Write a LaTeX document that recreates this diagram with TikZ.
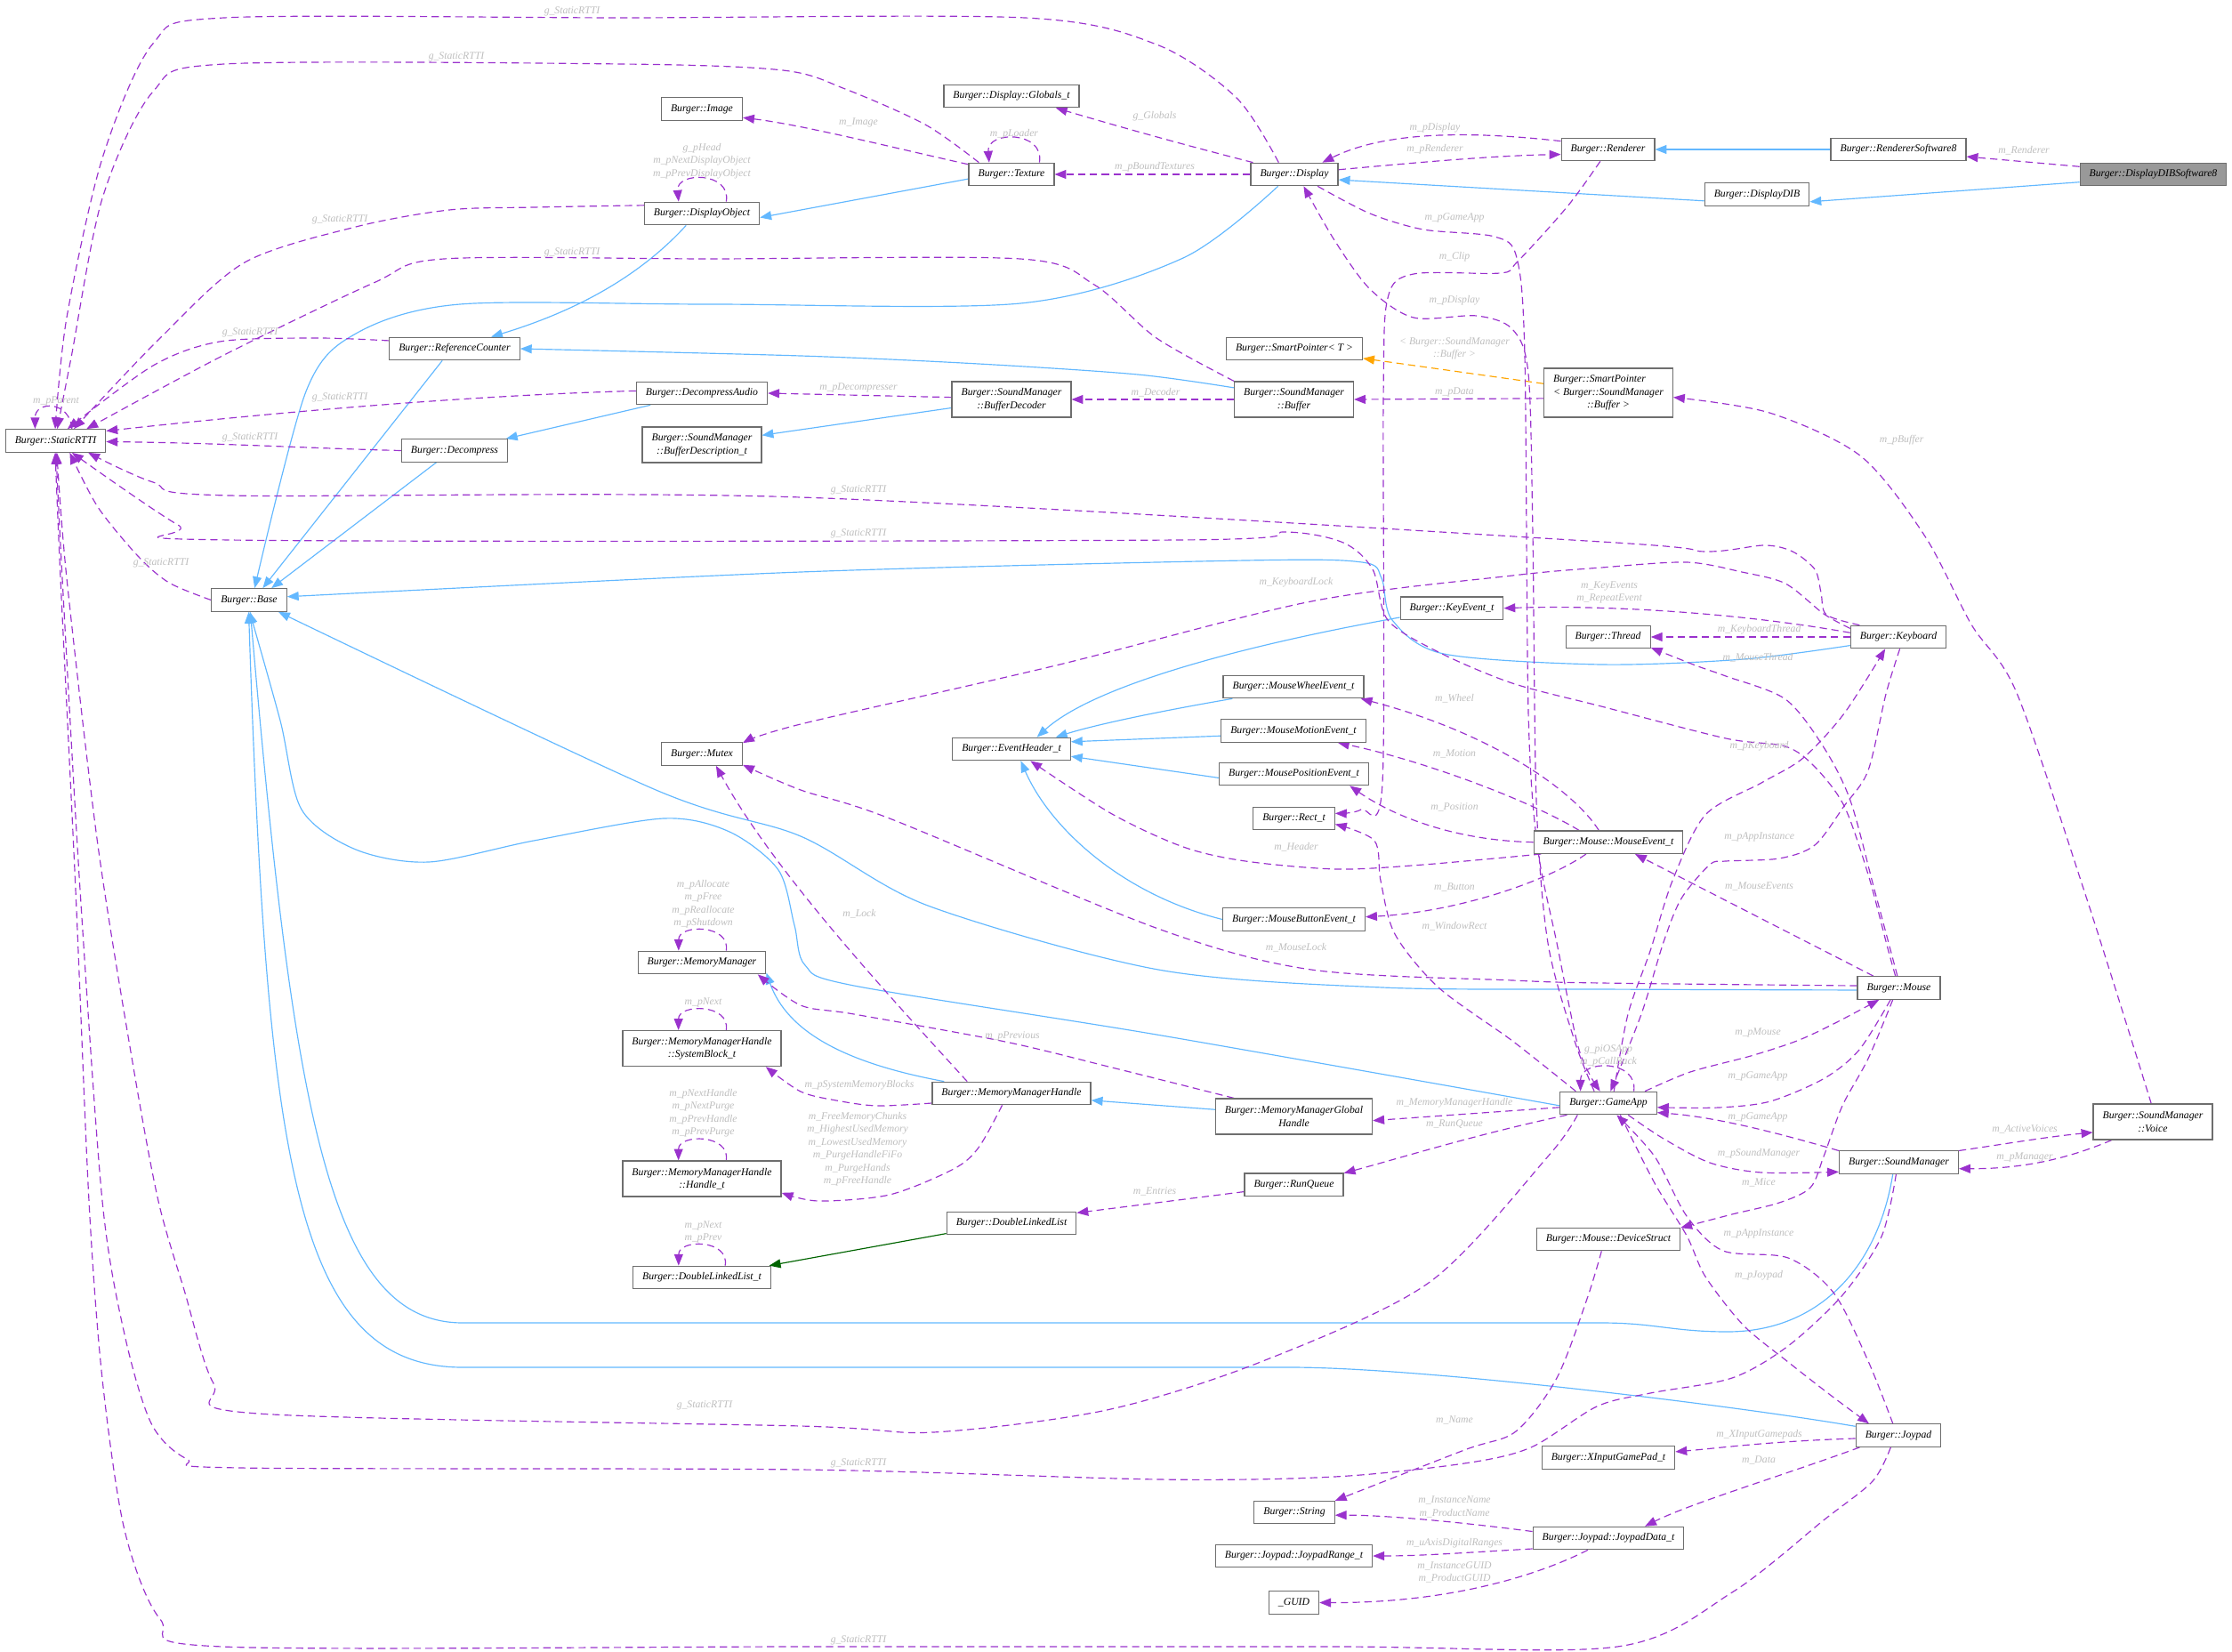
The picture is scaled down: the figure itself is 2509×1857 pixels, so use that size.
\documentclass[tikz,border=0pt]{standalone}
\usepackage{fontspec}
\setmainfont{Liberation Serif}
\usepackage{xcolor}
\usetikzlibrary{arrows.meta,backgrounds}
\definecolor{inhblue}{HTML}{63B8FF}
\definecolor{memorchid}{HTML}{9A32CD}
\definecolor{tplorange}{HTML}{FFA500}
\definecolor{pubgreen}{HTML}{006400}
\definecolor{lblgrey}{HTML}{BEBEBE}
\definecolor{boxgrey}{HTML}{6E6E6E}
\definecolor{curfill}{HTML}{999999}

\begin{document}
\begin{tikzpicture}[x=0.03cm, y=-0.03cm,
    cls/.style={draw=boxgrey, line width=1pt, fill=white, font=\fontsize{10}{12.4}\selectfont\itshape,
      inner xsep=9pt, inner ysep=2pt, minimum height=0.765cm, align=center},
    cls2/.style={cls, minimum height=1.2cm},
    cls3/.style={cls, minimum height=1.65cm},
    cur/.style={cls, fill=curfill},
    lbl/.style={font=\fontsize{10}{12.4}\selectfont\itshape, text=lblgrey, inner sep=0pt, align=center},
    inh/.style={draw=inhblue, line width=1pt, -{Triangle[length=11pt,width=8.5pt]}},
    mem/.style={draw=memorchid, line width=1pt, dash pattern=on 7pt off 4.3pt, -{Triangle[length=11pt,width=8.5pt]}},
    tpl/.style={mem, draw=tplorange},
    pub/.style={inh, draw=pubgreen},
  ]
  \useasboundingbox (0,0) rectangle (2509,1857);

  % classes
  \node[cls] (srtti) at (62.5,495.5) {Burger::StaticRTTI};
  \node[cls] (image) at (789,122.5) {Burger::Image};
  \node[cls] (dobj) at (789,240) {Burger::DisplayObject};
  \node[cls] (refc) at (511,392) {Burger::ReferenceCounter};
  \node[cls] (decaud) at (789,442) {Burger::DecompressAudio};
  \node[cls2] (bufdesc) at (789,500) {Burger::SoundManager\\::BufferDescription\_t};
  \node[cls] (decomp) at (511,506.5) {Burger::Decompress};
  \node[cls] (base) at (280,674.5) {Burger::Base};
  \node[cls] (globals) at (1137,108) {Burger::Display::Globals\_t};
  \node[cls] (texture) at (1137,196) {Burger::Texture};
  \node[cls] (display) at (1455,196) {Burger::Display};
  \node[cls] (renderer) at (1807.5,168) {Burger::Renderer};
  \node[cls] (rsw8) at (2134,168) {Burger::RendererSoftware8};
  \node[cur] (ddibsw8) at (2420.5,196) {Burger::DisplayDIBSoftware8};
  \node[cls] (ddib) at (1975,218.5) {Burger::DisplayDIB};
  \node[cls] (smptrT) at (1455,392) {Burger::SmartPointer< T >};
  \node[cls2] (bufdec) at (1137,449) {Burger::SoundManager\\::BufferDecoder};
  \node[cls2] (buffer) at (1454.5,449) {Burger::SoundManager\\::Buffer};
  \node[cls3] (smptrB) at (1808,441.5) {\begin{tabular}{@{}l@{}}Burger::SmartPointer\\< Burger::SoundManager\\\multicolumn{1}{@{}c@{}}{::Buffer >}\end{tabular}};
  \node[cls] (keyev) at (1632,683.7) {Burger::KeyEvent\_t};
  \node[cls] (thread) at (1807.6,716) {Burger::Thread};
  \node[cls] (keyboard) at (2134,716) {Burger::Keyboard};
  \node[cls] (mutex) at (789,847.5) {Burger::Mutex};
  \node[cls] (wheel) at (1454,772) {Burger::MouseWheelEvent\_t};
  \node[cls] (motion) at (1454,821.5) {Burger::MouseMotionEvent\_t};
  \node[cls] (evhdr) at (1137,842) {Burger::EventHeader\_t};
  \node[cls] (position) at (1454.5,870) {Burger::MousePositionEvent\_t};
  \node[cls] (rect) at (1454.5,920) {Burger::Rect\_t};
  \node[cls] (mouseev) at (1808,946.7) {Burger::Mouse::MouseEvent\_t};
  \node[cls] (button) at (1454.5,1033.5) {Burger::MouseButtonEvent\_t};
  \node[cls] (mouse) at (2134.5,1110.5) {Burger::Mouse};
  \node[cls] (memmgr) at (789,1082) {Burger::MemoryManager};
  \node[cls2] (sysblk) at (789,1178.6) {Burger::MemoryManagerHandle\\::SystemBlock\_t};
  \node[cls2] (handle) at (789,1325) {Burger::MemoryManagerHandle\\::Handle\_t};
  \node[cls] (dllt) at (789,1436) {Burger::DoubleLinkedList\_t};
  \node[cls] (mmh) at (1137,1229) {Burger::MemoryManagerHandle};
  \node[cls2] (mmgh) at (1454.5,1255) {Burger::MemoryManagerGlobal\\Handle};
  \node[cls] (gameapp) at (1808,1240) {Burger::GameApp};
  \node[cls2] (voice) at (2420,1261) {Burger::SoundManager\\::Voice};
  \node[cls] (sndmgr) at (2134.5,1306.6) {Burger::SoundManager};
  \node[cls] (runq) at (1454.5,1331.7) {Burger::RunQueue};
  \node[cls] (dll) at (1137,1375) {Burger::DoubleLinkedList};
  \node[cls] (devstr) at (1808,1393) {Burger::Mouse::DeviceStruct};
  \node[cls] (joypad) at (2134,1613.6) {Burger::Joypad};
  \node[cls] (xinput) at (1808,1638.5) {Burger::XInputGamePad\_t};
  \node[cls] (jdata) at (1808,1729) {Burger::Joypad::JoypadData\_t};
  \node[cls] (string) at (1455,1700) {Burger::String};
  \node[cls] (jrange) at (1454.5,1749) {Burger::Joypad::JoypadRange\_t};
  \node[cls] (guid) at (1454.5,1801.5) {\_GUID};

  \begin{scope}[on background layer]
  % inheritance
  \draw[inh] (rsw8.west) -- (renderer.east);
  \draw[inh] (ddibsw8.186) -- (ddib.352);
  \draw[inh] (ddib.187) -- (display.353);
  \draw[inh] (texture.186) -- (dobj.356);
  \draw[inh] (dobj.-143) .. controls (715,315) and (640,352) .. (refc.18);
  \draw[inh] plot[smooth] coordinates {(display.216) (1330,290) (1147,341) (800,342) (517,342) (400,375) (344,440) (base.65)};
  \draw[inh] (refc.-136) -- (base.41);
  \draw[inh] (decomp.-147) -- (base.28);
  \draw[inh] (decaud.193) -- (decomp.13);
  \draw[inh] (bufdec.188) -- (bufdesc.9);
  \draw[inh] plot[smooth] coordinates {(buffer.169) (1279,421) (1100,409) (900,400) (refc.east)};
  \draw[inh] plot[smooth] coordinates {(keyboard.190) (1960,741) (1800,747) (1623,735) (1565,697) (1553,650) (1531,632) (1400,630) (900,643) (base.5)};
  \draw[inh] plot[smooth] coordinates {(mouse.183) (1800,1112) (1554,1110) (1302,1090) (1043,1018) (900,940) (735,887) (base.-22)};
  \draw[inh] plot[smooth] coordinates {(gameapp.183) (1300,1163) (960,1108) (905,1085) (893,1040) (875,978) (820,935) (746,920) (600,945) (482,969) (400,955) (339,910) (315,810) (base.-87)};
  \draw[inh] (sndmgr.-117) .. controls (2110,1430) and (2040,1497) .. (1942,1497)
    .. controls (1880,1497) and (1860,1487) .. (1800,1487) -- (520,1487)
    .. controls (370,1487) and (330,1250) .. (base.-84);
  \draw[inh] (joypad.168) .. controls (1950,1580) and (1600,1537) .. (1450,1537) -- (520,1537)
    .. controls (330,1537) and (300,1300) .. (base.-92);
  \draw[inh] (keyev.190) .. controls (1400,725) and (1230,770) .. (evhdr.25);
  \draw[inh] (wheel.-169) .. controls (1300,800) and (1230,815) .. (evhdr.15);
  \draw[inh] (motion.184) -- (evhdr.7);
  \draw[inh] (position.183) -- (evhdr.-7);
  \draw[inh] (button.west) .. controls (1260,1005) and (1180,930) .. (evhdr.-52);
  \draw[inh] (mmgh.175) -- (mmh.-5);
  \draw[inh] (mmh.170) .. controls (950,1195) and (885,1160) .. (memmgr.-9);
  \draw[pub] (dll.189) -- (dllt.10);
  \draw[tpl] (smptrB.172) -- (smptrT.-8);

  % members
  \draw[mem] (ddibsw8.174) -- (rsw8.-6);
  \draw[mem] (display.6) .. controls (1600,182) and (1680,175) .. (renderer.186);
  \draw[mem] (renderer.170) .. controls (1660,148) and (1560,146) .. (display.23);
  \draw[mem] (display.164) .. controls (1320,160) and (1250,140) .. (globals.-15);
  \draw[mem] (display.west) -- (texture.east);
  \draw[mem] (texture.23) .. controls +(6,-36) and +(-3,-36) .. (texture.152);
  \draw[mem] (texture.167) .. controls (1000,165) and (900,140) .. (image.-12);
  \draw[mem] plot[smooth] coordinates {(display.143) (1390,110) (1300,50) (1152,20) (700,20) (252,20) (172,49) (115,178) (75,357) (srtti.92)};
  \draw[mem] plot[smooth] coordinates {(texture.160) (1040,140) (950,100) (880,79) (700,72) (252,72) (172,103) (115,223) (80,402) (srtti.82)};
  \draw[mem] (dobj.26) .. controls +(6,-34) and +(-3,-34) .. (dobj.153);
  \draw[mem] plot[smooth] coordinates {(dobj.172) (600,233) (505,236) (400,255) (275,295) (180,380) (srtti.33)};
  \draw[mem] plot[smooth] coordinates {(buffer.163) (1300,380) (1230,320) (1147,291) (800,291) (499,291) (420,318) (250,400) (srtti.21)};
  \draw[mem] plot[smooth] coordinates {(refc.173) (356,380) (247,384) (172,411) (srtti.45)};
  \draw[mem] (decaud.178) .. controls (500,445) and (250,470) .. (srtti.11);
  \draw[mem] (decomp.180) .. controls (350,504) and (250,498) .. (srtti.-1);
  \draw[mem] plot[smooth] coordinates {(keyboard.163) (2053,691) (2047,666) (2040,640) (2015,620) (1983,613) (1917,620) (1800,609) (900,559) (258,557) (172,542) (srtti.-20)};
  \draw[mem] plot[smooth] coordinates {(mouse.106) (2122,1066) (2100,983) (2073,906) (2040,862) (2007,839) (1940,830) (1800,794) (1700,768) (1617,733) (1560,697) (1543,640) (1510,610) (1445,598) (1325,607) (258,607) (200,590) (srtti.-36)};
  \draw[mem] plot[smooth] coordinates {(base.west) (190,655) (155,625) (110,570) (srtti.-40)};
  \draw[mem] plot[smooth] coordinates {(gameapp.-159) (1740,1300) (1606,1442) (1417,1531) (1244,1585) (1049,1610) (900,1603) (290,1589) (240,1555) (207,1450) (178,1350) (150,1200) (110,950) (75,650) (srtti.-84)};
  \draw[mem] plot[smooth] coordinates {(sndmgr.-103) (2115,1390) (2071,1456) (2010,1513) (1947,1549) (1855,1566) (1795,1581) (1721,1627) (1646,1645) (1500,1660) (1302,1663) (900,1652) (270,1650) (210,1640) (170,1600) (140,1500) (115,1350) (90,1000) (70,650) (srtti.-88)};
  \draw[mem] plot[smooth] coordinates {(joypad.-123) (2105,1665) (2051,1708) (1947,1790) (1818,1851) (1500,1851) (900,1851) (250,1851) (180,1820) (140,1720) (115,1550) (100,1350) (85,1000) (68,650) (srtti.-92)};
  \draw[mem] (srtti.36) .. controls +(-2,-32) and +(0,-32) .. (srtti.150);
  \draw[mem] (buffer.west) -- (bufdec.east);
  \draw[mem] (bufdec.178) -- (decaud.east);
  \draw[mem] (smptrB.185) -- (buffer.east);
  \draw[mem] plot[smooth] coordinates {(voice.95) (2345,1008) (2267,779) (2216,702) (2164,603) (2092,513) (1989,464) (smptrB.-4)};
  \draw[mem] (keyboard.175) .. controls (1950,688) and (1800,680) .. (keyev.east);
  \draw[mem] (keyboard.west) -- (thread.east);
  \draw[mem] plot[smooth] coordinates {(mouse.97) (2107,1000) (2080,900) (2050,840) (2007,786) (1940,760) (1906,748) (thread.-14)};
  \draw[mem] (mouse.155) -- (mouseev.-24);
  \draw[mem] (mouseev.129) .. controls (1770,890) and (1680,825) .. (wheel.-10);
  \draw[mem] (mouseev.158) .. controls (1720,900) and (1600,855) .. (motion.-15);
  \draw[mem] (mouseev.west) .. controls (1640,945) and (1570,920) .. (position.-12);
  \draw[mem] plot[smooth] coordinates {(mouseev.190) (1600,972) (1503,977) (1400,968) (1330,952) (1250,915) (evhdr.-32)};
  \draw[mem] (mouseev.208) .. controls (1740,990) and (1640,1025) .. (button.2);
  \draw[mem] plot[smooth] coordinates {(gameapp.160) (1700,1170) (1617,1110) (1568,1050) (1552,990) (1545,945) (rect.-8)};
  \draw[mem] plot[smooth] coordinates {(renderer.-123) (1762,232) (1705,295) (1686,307) (1589,308) (1560,335) (1555,450) (1554,880) (1530,910) (rect.7)};
  \draw[mem] plot[smooth] coordinates {(display.-27) (1540,240) (1600,258) (1680,266) (1705,290) (1714,400) (1718,800) (1728,950) (1750,1060) (1775,1180) (gameapp.125)};
  \draw[mem] plot[smooth] coordinates {(gameapp.140) (1770,1170) (1740,1060) (1727,900) (1723,600) (1718,420) (1700,370) (1660,355) (1589,357) (1540,325) (1500,270) (display.-52)};
  \draw[mem] (gameapp.25) .. controls +(5,-36) and +(0,-36) .. (gameapp.157);
  \draw[mem] plot[smooth] coordinates {(gameapp.65) (1830,1140) (1855,1069) (1880,990) (1917,916) (1980,880) (2027,852) (2073,802) (keyboard.-138)};
  \draw[mem] plot[smooth] coordinates {(keyboard.-83) (2120,780) (2100,866) (2073,906) (2040,950) (2000,965) (1940,968) (1922,972) (1890,1010) (1870,1059) (1845,1140) (gameapp.80)};
  \draw[mem] plot[smooth] coordinates {(keyboard.170) (2050,690) (2007,656) (1958,643) (1896,632) (1800,638) (1700,647) (1474,676) (1187,748) (900,814) (mutex.15)};
  \draw[mem] plot[smooth] coordinates {(mouse.177) (1800,1105) (1700,1102) (1474,1090) (1302,1044) (1000,920) (900,888) (mutex.-15)};
  \draw[mem] (mmh.165) .. controls (1000,1120) and (870,980) .. (mutex.-40);
  \draw[mem] plot[smooth] coordinates {(mmgh.163) (1250,1200) (1130,1171) (960,1140) (900,1130) (memmgr.-12)};
  \draw[mem] plot[smooth] coordinates {(mmh.187) (986,1243) (940,1237) (900,1227) (sysblk.-16)};
  \draw[mem] plot[smooth] coordinates {(mmh.-128) (1100,1290) (1072,1314) (1000,1343) (920,1350) (handle.-10)};
  \draw[mem] (memmgr.26) .. controls +(5,-30) and +(0,-30) .. (memmgr.153);
  \draw[mem] (sysblk.37) .. controls +(5,-30) and +(0,-30) .. (sysblk.142);
  \draw[mem] (handle.37) .. controls +(5,-30) and +(0,-30) .. (handle.142);
  \draw[mem] (dllt.27) .. controls +(5,-30) and +(0,-30) .. (dllt.153);
  \draw[mem] (runq.188) -- (dll.9);
  \draw[mem] (gameapp.-164) .. controls (1660,1275) and (1580,1300) .. (runq.13);
  \draw[mem] (gameapp.185) -- (mmgh.-3);
  \draw[mem] plot[smooth] coordinates {(gameapp.18) (1900,1205) (1968,1187) (2020,1170) (2061,1151) (mouse.-149)};
  \draw[mem] plot[smooth] coordinates {(mouse.-125) (2090,1180) (2051,1212) (1990,1238) (1932,1245) (gameapp.-5)};
  \draw[mem] (sndmgr.169) .. controls (1980,1268) and (1920,1255) .. (gameapp.-11);
  \draw[mem] plot[smooth] coordinates {(gameapp.-31) (1870,1280) (1922,1307) (1980,1318) (sndmgr.189)};
  \draw[mem] (sndmgr.11) .. controls (2260,1285) and (2300,1278) .. (voice.190);
  \draw[mem] (voice.204) .. controls (2330,1300) and (2280,1314) .. (sndmgr.-6);
  \draw[mem] plot[smooth] coordinates {(mouse.-117) (2100,1190) (2071,1243) (2050,1300) (2035,1335) (2000,1352) (1947,1365) (devstr.9)};
  \draw[mem] plot[smooth] coordinates {(joypad.115) (2100,1530) (2061,1453) (2010,1414) (1937,1406) (1896,1367) (1860,1300) (gameapp.-55)};
  \draw[mem] plot[smooth] coordinates {(gameapp.-45) (1860,1330) (1896,1389) (1917,1435) (1960,1490) (2010,1531) (2060,1570) (joypad.158)};
  \draw[mem] plot[smooth] coordinates {(devstr.-120) (1784,1460) (1750,1549) (1704,1609) (1646,1630) (string.16)};
  \draw[mem] (joypad.197) .. controls (2000,1660) and (1900,1690) .. (jdata.18);
  \draw[mem] (joypad.184) .. controls (1990,1620) and (1930,1628) .. (xinput.5);
  \draw[mem] (jdata.175) .. controls (1650,1712) and (1560,1703) .. (string.-4);
  \draw[mem] (jdata.188) .. controls (1650,1745) and (1600,1749) .. (jrange.east);
  \draw[mem] (jdata.-150) .. controls (1720,1775) and (1620,1802) .. (guid.east);
  \end{scope}

  % edge labels
  \node[lbl] (lbRend) at (2275,169) {m\_Renderer};
  \node[lbl] (lbPRend) at (1613,168) {m\_pRenderer};
  \node[lbl] (lbPDisp) at (1613,144) {m\_pDisplay};
  \node[lbl] (lbGlob) at (1298,131) {g\_Globals};
  \node[lbl] (lbBound) at (1298,188) {m\_pBoundTextures};
  \node[lbl] (lbLoader) at (1140,151) {m\_pLoader};
  \node[lbl] (lbImage) at (965,137.5) {m\_Image};
  \node[lbl] (lbRttiA) at (643,12.5) {g\_StaticRTTI};
  \node[lbl] (lbRttiB) at (513,64) {g\_StaticRTTI};
  \node[lbl] (lbHead) at (789,181) {g\_pHead\\m\_pNextDisplayObject\\m\_pPrevDisplayObject};
  \node[lbl] (lbRttiC) at (382,247) {g\_StaticRTTI};
  \node[lbl] (lbRttiD) at (643,283.5) {g\_StaticRTTI};
  \node[lbl] (lbRttiE) at (281,373.7) {g\_StaticRTTI};
  \node[lbl] (lbRttiF) at (382,447) {g\_StaticRTTI};
  \node[lbl] (lbRttiG) at (281,492) {g\_StaticRTTI};
  \node[lbl] (lbRttiH) at (965,551) {g\_StaticRTTI};
  \node[lbl] (lbRttiI) at (965,600) {g\_StaticRTTI};
  \node[lbl] (lbRttiJ) at (181,633) {g\_StaticRTTI};
  \node[lbl] (lbRttiK) at (792,1580) {g\_StaticRTTI};
  \node[lbl] (lbRttiL) at (965,1644.6) {g\_StaticRTTI};
  \node[lbl] (lbRttiM) at (965,1843.5) {g\_StaticRTTI};
  \node[lbl] (lbParent) at (63,451) {m\_pParent};
  \node[lbl] (lbDecoder) at (1299,441) {m\_Decoder};
  \node[lbl] (lbDecomp) at (965,436) {m\_pDecompresser};
  \node[lbl] (lbData) at (1635,440.6) {m\_pData};
  \node[lbl] (lbTpl) at (1635,391.6) {< Burger::SoundManager\\::Buffer >};
  \node[lbl] (lbBuffer) at (2137.6,494.6) {m\_pBuffer};
  \node[lbl] (lbKeyEv) at (1809,666) {m\_KeyEvents\\m\_RepeatEvent};
  \node[lbl] (lbKbThr) at (1977.6,708) {m\_KeyboardThread};
  \node[lbl] (lbMsThr) at (1976,739) {m\_MouseThread};
  \node[lbl] (lbPKb) at (1977.6,839) {m\_pKeyboard};
  \node[lbl] (lbAppA) at (1977.6,941) {m\_pAppInstance};
  \node[lbl] (lbMsEv) at (1977.6,996) {m\_MouseEvents};
  \node[lbl] (lbKbLock) at (1457,655) {m\_KeyboardLock};
  \node[lbl] (lbWheel) at (1635,784.7) {m\_Wheel};
  \node[lbl] (lbMotion) at (1635,847) {m\_Motion};
  \node[lbl] (lbPos) at (1635,907) {m\_Position};
  \node[lbl] (lbHeader) at (1457,952) {m\_Header};
  \node[lbl] (lbButton) at (1635,997) {m\_Button};
  \node[lbl] (lbWinRect) at (1635,1041) {m\_WindowRect};
  \node[lbl] (lbClip) at (1635,289) {m\_Clip};
  \node[lbl] (lbGameA) at (1635,244.6) {m\_pGameApp};
  \node[lbl] (lbPDispB) at (1635,338) {m\_pDisplay};
  \node[lbl] (lbMsLock) at (1457,1065) {m\_MouseLock};
  \node[lbl] (lbLock) at (966,1027.5) {m\_Lock};
  \node[lbl] (lbAlloc) at (790.5,1016) {m\_pAllocate\\m\_pFree\\m\_pReallocate\\m\_pShutdown};
  \node[lbl] (lbNextA) at (790.5,1127) {m\_pNext};
  \node[lbl] (lbHandle) at (790.5,1251) {m\_pNextHandle\\m\_pNextPurge\\m\_pPrevHandle\\m\_pPrevPurge};
  \node[lbl] (lbNextB) at (790.5,1384.7) {m\_pNext\\m\_pPrev};
  \node[lbl] (lbPrev) at (1138,1164.8) {m\_pPrevious};
  \node[lbl] (lbSysBlk) at (966,1220) {m\_pSystemMemoryBlocks};
  \node[lbl] (lbChunks) at (964,1291.5) {m\_FreeMemoryChunks\\m\_HighestUsedMemory\\m\_LowestUsedMemory\\m\_PurgeHandleFiFo\\m\_PurgeHands\\m\_pFreeHandle};
  \node[lbl] (lbEntries) at (1298,1339) {m\_Entries};
  \node[lbl] (lbRunQ) at (1635,1264) {m\_RunQueue};
  \node[lbl] (lbMMH) at (1635,1240) {m\_MemoryManagerHandle};
  \node[lbl] (lbOSApp) at (1808,1187) {g\_piOSApp\\m\_pCallBack};
  \node[lbl] (lbPMouse) at (1976,1161) {m\_pMouse};
  \node[lbl] (lbGameB) at (1976,1209.7) {m\_pGameApp};
  \node[lbl] (lbGameC) at (1976,1255.6) {m\_pGameApp};
  \node[lbl] (lbSndMgr) at (1977,1297) {m\_pSoundManager};
  \node[lbl] (lbVoices) at (2276,1269) {m\_ActiveVoices};
  \node[lbl] (lbMgr) at (2276,1300.5) {m\_pManager};
  \node[lbl] (lbMice) at (1977,1329.6) {m\_Mice};
  \node[lbl] (lbAppB) at (1977,1387) {m\_pAppInstance};
  \node[lbl] (lbJoy) at (1977,1433.6) {m\_pJoypad};
  \node[lbl] (lbName) at (1635,1596) {m\_Name};
  \node[lbl] (lbXInput) at (1977.6,1613) {m\_XInputGamepads};
  \node[lbl] (lbJData) at (1977,1641.7) {m\_Data};
  \node[lbl] (lbInstName) at (1635,1694) {m\_InstanceName\\m\_ProductName};
  \node[lbl] (lbRanges) at (1635,1735) {m\_uAxisDigitalRanges};
  \node[lbl] (lbGuid) at (1635,1767.5) {m\_InstanceGUID\\m\_ProductGUID};
\end{tikzpicture}
\end{document}
